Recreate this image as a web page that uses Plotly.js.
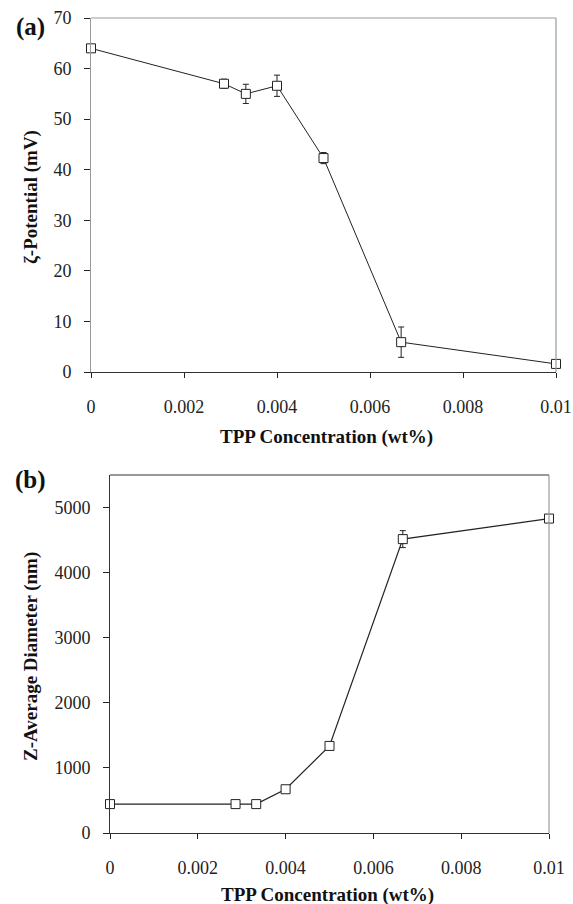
<!DOCTYPE html>
<html>
<head>
<meta charset="utf-8">
<script src="https://cdn.plot.ly/plotly-3.0.1.min.js"></script>
<style>html,body{margin:0;padding:0;background:#fff;}#chart{width:573px;height:904px;}</style>
</head>
<body>
<div id="chart"></div>
<script>
// ---- data ----
const tppConc = [0, 0.00286, 0.00333, 0.004, 0.005, 0.00667, 0.01];
const zetaPotential = [64, 57, 55, 56.6, 42.3, 5.9, 1.6];
const zetaError = [0, 0.9, 1.9, 2.1, 1.1, 3.0, 0.4];
const zAvgDiameter = [444, 444, 444, 672, 1338, 4515, 4831];
const diameterError = [0, 0, 0, 0, 0, 130, 0];
const xTickVals = [0, 0.002, 0.004, 0.006, 0.008, 0.01];
const xTickText = ['0', '0.002', '0.004', '0.006', '0.008', '0.01'];
const zetaTicks = [0, 10, 20, 30, 40, 50, 60, 70];
const diamTicks = [0, 1000, 2000, 3000, 4000, 5000];

const W = 573, H = 904;
const px = v => v / W;
const py = v => 1 - v / H;
const FONT = 'Liberation Serif';
const DARK = '#222';
const GRAY = '#9a9a9a';

const markerStyle = {symbol: 'square', size: 9, color: '#fff', line: {color: DARK, width: 1}};

const traceA = {
  x: tppConc, y: zetaPotential, xaxis: 'x', yaxis: 'y',
  type: 'scatter', mode: 'lines+markers', cliponaxis: false,
  line: {color: DARK, width: 1}, marker: markerStyle,
  error_y: {type: 'data', array: zetaError, visible: true, color: DARK, thickness: 1, width: 3},
  showlegend: false, hoverinfo: 'x+y'
};
const traceB = {
  x: tppConc, y: zAvgDiameter, xaxis: 'x2', yaxis: 'y2',
  type: 'scatter', mode: 'lines+markers', cliponaxis: false,
  line: {color: DARK, width: 1.2}, marker: markerStyle,
  error_y: {type: 'data', array: diameterError, visible: true, color: DARK, thickness: 1, width: 3},
  showlegend: false, hoverinfo: 'x+y'
};

const tickFont = {family: FONT, size: 18, color: DARK};
const domAx = [px(91), px(556)], domAy = [py(372), py(18)];
const domBx = [px(110), px(549)], domBy = [py(833), py(475)];

function xAxis(domain, anchor, lineColor) {
  return {domain: domain, anchor: anchor, range: [0, 0.01], showgrid: false, zeroline: false,
    showline: true, linecolor: lineColor, linewidth: 1,
    ticks: 'outside', ticklen: 5, tickwidth: 1, tickcolor: DARK,
    tickvals: xTickVals, ticktext: xTickText, tickfont: tickFont, ticklabelstandoff: 13, fixedrange: true};
}
function yAxis(domain, anchor, range, ticks, lineColor) {
  return {domain: domain, anchor: anchor, range: range, showgrid: false, zeroline: false,
    showline: true, linecolor: lineColor, linewidth: 1,
    ticks: 'outside', ticklen: 6, tickwidth: 1, tickcolor: DARK,
    tickvals: ticks, tickfont: tickFont, ticklabelstandoff: 9, fixedrange: true};
}
function innerX(domain, anchor, over) {
  return {domain: domain, anchor: anchor, overlaying: over, range: [0, 0.01], showgrid: false, zeroline: false,
    showline: false, ticks: 'inside', ticklen: 5, tickwidth: 1, tickcolor: DARK,
    tickvals: xTickVals, showticklabels: false, fixedrange: true};
}
function innerY(domain, anchor, over, range, ticks) {
  return {domain: domain, anchor: anchor, overlaying: over, range: range, showgrid: false, zeroline: false,
    showline: false, ticks: 'inside', ticklen: 5, tickwidth: 1, tickcolor: DARK,
    tickvals: ticks, showticklabels: false, fixedrange: true};
}

const layout = {
  width: W, height: H, margin: {l: 0, r: 0, t: 0, b: 0},
  paper_bgcolor: '#fff', plot_bgcolor: 'rgba(0,0,0,0)',
  font: {family: FONT, color: DARK},
  xaxis: xAxis(domAx, 'y', '#333'),
  yaxis: yAxis(domAy, 'x', [0, 70], zetaTicks, GRAY),
  xaxis2: xAxis(domBx, 'y2', '#333'),
  yaxis2: yAxis(domBy, 'x2', [0, 5500], diamTicks, '#333'),
  xaxis3: innerX(domAx, 'y', 'x'),
  yaxis3: innerY(domAy, 'x', 'y', [0, 70], zetaTicks),
  xaxis4: innerX(domBx, 'y2', 'x2'),
  yaxis4: innerY(domBy, 'x2', 'y2', [0, 5500], diamTicks),
  shapes: [
    {type: 'line', xref: 'x domain', yref: 'y domain', x0: 0, x1: 1, y0: 1, y1: 1, line: {color: GRAY, width: 1.2}},
    {type: 'line', xref: 'x domain', yref: 'y domain', x0: 1, x1: 1, y0: 0, y1: 1, line: {color: GRAY, width: 1.2}},
    {type: 'line', xref: 'x2 domain', yref: 'y2 domain', x0: 0, x1: 1, y0: 1, y1: 1, line: {color: '#333', width: 1.2}},
    {type: 'line', xref: 'x2 domain', yref: 'y2 domain', x0: 1, x1: 1, y0: 0, y1: 1, line: {color: GRAY, width: 1.2}}
  ],
  annotations: [
    {text: '<b>(a)</b>', xref: 'paper', yref: 'paper', x: px(30), y: py(27), xanchor: 'center', yanchor: 'middle', showarrow: false, font: {family: FONT, size: 25, color: '#111'}},
    {text: '<b>ζ-Potential (mV)</b>', xref: 'paper', yref: 'paper', x: px(31), y: py(197), xanchor: 'center', yanchor: 'middle', textangle: -90, showarrow: false, font: {family: FONT, size: 19, color: '#111'}},
    {text: '<b>TPP Concentration (wt%)</b>', xref: 'paper', yref: 'paper', x: px(326), y: py(437), xanchor: 'center', yanchor: 'middle', showarrow: false, font: {family: FONT, size: 19, color: '#111'}},
    {text: '<b>(b)</b>', xref: 'paper', yref: 'paper', x: px(30), y: py(480), xanchor: 'center', yanchor: 'middle', showarrow: false, font: {family: FONT, size: 25, color: '#111'}},
    {text: '<b>Z-Average Diameter (nm)</b>', xref: 'paper', yref: 'paper', x: px(31), y: py(657), xanchor: 'center', yanchor: 'middle', textangle: -90, showarrow: false, font: {family: FONT, size: 19, color: '#111'}},
    {text: '<b>TPP Concentration (wt%)</b>', xref: 'paper', yref: 'paper', x: px(327), y: py(895), xanchor: 'center', yanchor: 'middle', showarrow: false, font: {family: FONT, size: 19, color: '#111'}}
  ]
};

Plotly.newPlot('chart', [traceA, traceB], layout, {staticPlot: true, displayModeBar: false});
</script>
</body>
</html>
